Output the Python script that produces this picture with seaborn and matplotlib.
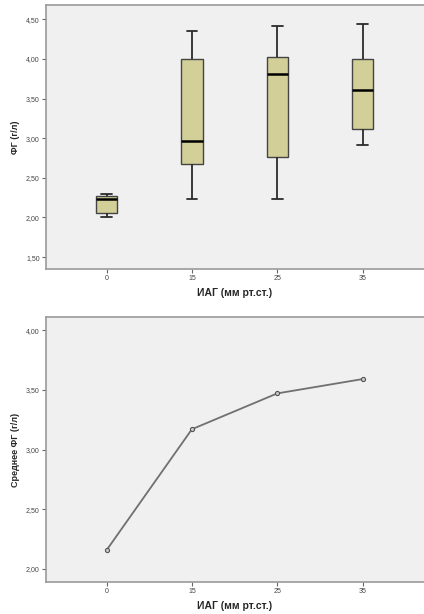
import pandas as pd
import seaborn as sns
import matplotlib.pyplot as plt
import numpy as np

# categories (ИАГ, мм рт.ст.)
groups = ['0', '15', '25', '35']

# box stats per group: min, q1, median, q3, max
fg_min = [2.00, 2.23, 2.23, 2.91]
fg_q1 = [2.05, 2.67, 2.76, 3.11]
fg_med = [2.23, 2.96, 3.81, 3.61]
fg_q3 = [2.27, 4.00, 4.02, 4.00]
fg_max = [2.30, 4.35, 4.41, 4.44]

# means per group
fg_mean = [2.157, 3.17, 3.47, 3.59]

y_ticks_top = [1.5, 2.0, 2.5, 3.0, 3.5, 4.0, 4.5]
y_ticks_bot = [2.0, 2.5, 3.0, 3.5, 4.0]

# 5 points per group -> quartiles come out exactly
rows = []
for i, g in enumerate(groups):
    for v in (fg_min[i], fg_q1[i], fg_med[i], fg_q3[i], fg_max[i]):
        rows.append({'iag': g, 'fg': v})
df_box = pd.DataFrame(rows)
df_mean = pd.DataFrame({'iag': groups, 'fg': fg_mean})

sns.set_style('white')
plt.rcParams['font.family'] = ['Liberation Sans', 'DejaVu Sans']

fig = plt.figure(figsize=(4.24, 6.14), dpi=100)
ax1 = fig.add_axes([0.1085, 0.5619, 0.8915, 0.430])
ax2 = fig.add_axes([0.1085, 0.0521, 0.8915, 0.4316])

bg = '#f0f0f0'
spine_c = '#9a9a9a'


def comma(vals):
    return [('%.2f' % t).replace('.', ',') for t in vals]


# Boxplot
sns.boxplot(data=df_box, x='iag', y='fg', order=groups, ax=ax1, width=0.25,
            whis=(0, 100), color='#d3cf98', saturation=1, linewidth=1.0,
            linecolor='#444444', showfliers=False,
            medianprops={'color': 'black', 'linewidth': 1.8},
            capprops={'color': '#2b2b2b', 'linewidth': 1.3},
            whiskerprops={'color': '#2b2b2b', 'linewidth': 1.3})
ax1.set_ylim(1.35, 4.68)
ax1.set_xlim(-0.71, 3.72)
ax1.set_yticks(y_ticks_top)
ax1.set_yticklabels(comma(y_ticks_top))
ax1.set_ylabel('ФГ (г/л)', fontsize=6.5, fontweight='bold', labelpad=4)
ax1.set_xlabel('ИАГ (мм рт.ст.)', fontsize=7.5, fontweight='bold', labelpad=4)

# Line of means
sns.pointplot(data=df_mean, x='iag', y='fg', order=groups, ax=ax2,
              errorbar=None, color='#707070', markers='o', markersize=3,
              linewidth=1.3)
for ln in ax2.lines:
    ln.set_markerfacecolor('#c8c8c8')
    ln.set_markeredgecolor('#555555')
    ln.set_markeredgewidth(0.8)
ax2.set_ylim(1.89, 4.11)
ax2.set_xlim(-0.71, 3.72)
ax2.set_yticks(y_ticks_bot)
ax2.set_yticklabels(comma(y_ticks_bot))
ax2.set_ylabel('Среднее ФГ (г/л)', fontsize=6.5, fontweight='bold', labelpad=4)
ax2.set_xlabel('ИАГ (мм рт.ст.)', fontsize=7.5, fontweight='bold', labelpad=4)

for ax in (ax1, ax2):
    ax.set_facecolor(bg)
    for s in ax.spines.values():
        s.set_color(spine_c)
        s.set_linewidth(1.2)
    ax.spines['right'].set_visible(False)
    ax.tick_params(axis='both', labelsize=5, length=3, width=0.8,
                   color='#666666', labelcolor='#444444', pad=1.5,
                   bottom=True, left=True)

fig.savefig('out.png', dpi=100)
